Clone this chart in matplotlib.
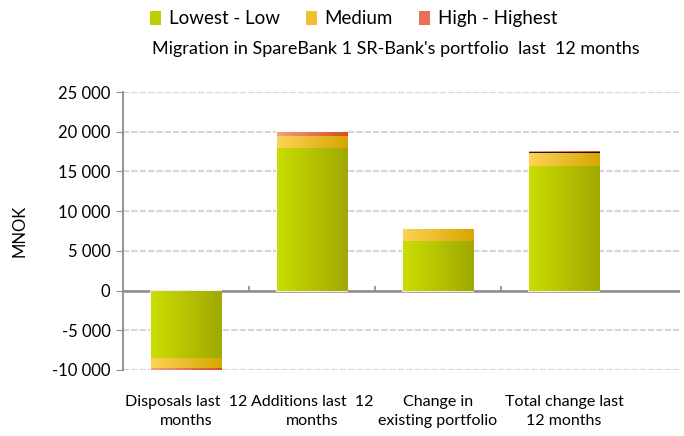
import numpy as np
import matplotlib.pyplot as plt
from matplotlib.colors import LinearSegmentedColormap
from matplotlib.patches import Patch

plt.rcParams['font.family'] = ['Lato', 'DejaVu Sans']

# Data (MNOK)
categories = ["Disposals last  12\nmonths", "Additions last  12\nmonths",
              "Change in\nexisting portfolio", "Total change last\n12 months"]
lowest_low = [-8450, 17930, 6250, 15700]
medium = [-1250, 1500, 1450, 1650]
unclassified = [-90, 0, 0, 100]
high_highest = [-160, 520, 0, 120]

series = [
    ("Lowest - Low", lowest_low, ("#cadd00", "#a0a900")),
    ("Medium", medium, ("#fdd257", "#d8a600")),
    (None, unclassified, ("#222222", "#111111")),
    ("High - Highest", high_highest, ("#eea080", "#dc4a28")),
]

fig = plt.figure(figsize=(6.84, 4.36), dpi=100)
ax = fig.add_axes([0.18, 1 - 370 / 436, 0.994 - 0.18, (370 - 92) / 436])

x = np.arange(len(categories))
width = 0.556
pos_base = np.zeros(len(x))
neg_base = np.zeros(len(x))

# stacked bars with a left-to-right gradient fill
gradient = np.linspace(0, 1, 64).reshape(1, -1)
for label, vals, (c0, c1) in series:
    vals = np.array(vals, dtype=float)
    bottom = np.where(vals >= 0, pos_base, neg_base)
    bars = ax.bar(x, vals, width, bottom=bottom, color=c0, edgecolor="white",
                  linewidth=1.2 if label else 0, zorder=3)
    cmap = LinearSegmentedColormap.from_list("g", [c0, c1])
    for b, v in zip(bars, vals):
        if v == 0:
            continue
        bx, by = b.get_x(), b.get_y()
        bw, bh = b.get_width(), b.get_height()
        im = ax.imshow(gradient, cmap=cmap, aspect="auto", zorder=3.5,
                       extent=[bx, bx + bw, by, by + bh], interpolation="bilinear")
        im.set_clip_path(b)
    pos_base += np.where(vals >= 0, vals, 0)
    neg_base += np.where(vals < 0, vals, 0)

ax.set_xlim(-0.5, 3.92)
ax.set_ylim(-10000, 25000)
ax.set_yticks(np.arange(-10000, 25001, 5000))
ax.set_yticklabels([f"{v:,}".replace(",", " ") for v in range(-10000, 25001, 5000)])
ax.yaxis.grid(True, color="#d6d6d6", linewidth=1.5, linestyle=(0, (3, 1)), zorder=0)
ax.set_axisbelow(True)

for s in ["top", "right", "bottom"]:
    ax.spines[s].set_visible(False)
ax.spines["left"].set_color("#8c8c8c")
ax.spines["left"].set_linewidth(1.3)
ax.axhline(0, color="#8c8c8c", linewidth=1.8, zorder=2)
ax.vlines([0.5, 1.5, 2.5], 0, 600, color="#8c8c8c", linewidth=1.2, zorder=2)

ax.tick_params(axis="y", length=5, color="#8c8c8c", labelsize=12, pad=4)
ax.tick_params(axis="x", length=0, labelsize=11.5, pad=18)
ax.set_xticks(x)
ax.set_xticklabels(categories, linespacing=1.45)
ax.set_ylabel("MNOK", fontsize=12, labelpad=18)

fig.text(0.578, 0.888, "Migration in SpareBank 1 SR-Bank's portfolio  last  12 months",
         ha="center", va="center", fontsize=13)

handles = [Patch(facecolor="#bccf00", label="Lowest - Low"),
           Patch(facecolor="#f0c030", label="Medium"),
           Patch(facecolor="#e87055", label="High - Highest")]
fig.legend(handles=handles, loc="center", bbox_to_anchor=(0.517, 0.957), ncol=3,
           frameon=False, fontsize=13.5, handlelength=0.6, handleheight=0.75,
           columnspacing=1.4, handletextpad=0.4)

fig.savefig("out.png", dpi=100)
